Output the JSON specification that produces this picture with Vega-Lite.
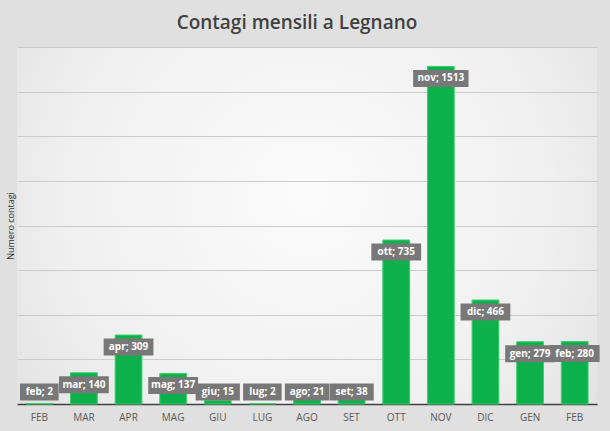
{
  "$schema": "https://vega.github.io/schema/vega-lite/v6.json",
  "width": 580,
  "height": 357,
  "autosize": {"type": "none"},
  "padding": {"left": 17, "top": 47, "right": 13, "bottom": 27},
  "background": "#e0e0e0",
  "title": {
    "text": "Contagi mensili a Legnano",
    "font": "Open Sans",
    "fontSize": 19,
    "fontWeight": 600,
    "color": "#404040",
    "anchor": "middle",
    "dx": -10,
    "offset": 14
  },
  "config": {
    "view": {
      "stroke": null,
      "fill": {
        "gradient": "radial",
        "x1": 0.5, "y1": 0.45, "r1": 0,
        "x2": 0.5, "y2": 0.45, "r2": 0.75,
        "stops": [
          {"offset": 0, "color": "#fbfbfb"},
          {"offset": 0.55, "color": "#f0f0f0"},
          {"offset": 1, "color": "#dadada"}
        ]
      }
    },
    "font": "Open Sans"
  },
  "data": {
    "values": [
      {"k": "FEB_20", "m": "feb", "v": 2},
      {"k": "MAR_20", "m": "mar", "v": 140},
      {"k": "APR_20", "m": "apr", "v": 309},
      {"k": "MAG_20", "m": "mag", "v": 137},
      {"k": "GIU_20", "m": "giu", "v": 15},
      {"k": "LUG_20", "m": "lug", "v": 2},
      {"k": "AGO_20", "m": "ago", "v": 21},
      {"k": "SET_20", "m": "set", "v": 38},
      {"k": "OTT_20", "m": "ott", "v": 735},
      {"k": "NOV_20", "m": "nov", "v": 1513},
      {"k": "DIC_20", "m": "dic", "v": 466},
      {"k": "GEN_21", "m": "gen", "v": 279},
      {"k": "FEB_21", "m": "feb", "v": 280}
    ]
  },
  "transform": [
    {"calculate": "datum.m + '; ' + datum.v", "as": "lab"},
    {"calculate": "max(datum.v - 54, 54)", "as": "ly"}
  ],
  "encoding": {
    "x": {
      "field": "k",
      "type": "nominal",
      "sort": null,
      "scale": {"paddingInner": 0.4, "paddingOuter": 0.2},
      "axis": {
        "title": null,
        "labelExpr": "split(datum.label, '_')[0]",
        "labelAngle": 0,
        "labelColor": "#595959",
        "labelFontSize": 10,
        "labelPadding": 8,
        "ticks": false,
        "domainColor": "#404040",
        "domainWidth": 1.5
      }
    }
  },
  "layer": [
    {
      "mark": {"type": "bar", "color": "#0cb14b", "stroke": "#3fcf6a", "strokeWidth": 1},
      "encoding": {
        "y": {
          "field": "v",
          "type": "quantitative",
          "scale": {"domain": [0, 1600]},
          "axis": {
            "title": "Numero contagi",
            "titleFontSize": 9,
            "titleFontWeight": "normal",
            "titleColor": "#333333",
            "titlePadding": 2,
            "labels": false,
            "ticks": false,
            "domain": false,
            "values": [0, 200, 400, 600, 800, 1000, 1200, 1400, 1600],
            "gridColor": "#cbcbcb",
            "gridWidth": 1
          }
        }
      }
    },
    {
      "mark": {
        "type": "bar",
        "color": "#787878",
        "width": {"expr": "length(datum.lab) * 5.6 + 5"},
        "yOffset": -8.5,
        "y2Offset": 8.5
      },
      "encoding": {
        "y": {"field": "ly", "type": "quantitative"},
        "y2": {"field": "ly"}
      }
    },
    {
      "mark": {
        "type": "text",
        "color": "#ffffff",
        "fontSize": 10,
        "fontWeight": "bold",
        "baseline": "middle",
        "align": "center"
      },
      "encoding": {
        "y": {"field": "ly", "type": "quantitative"},
        "text": {"field": "lab"}
      }
    }
  ]
}
